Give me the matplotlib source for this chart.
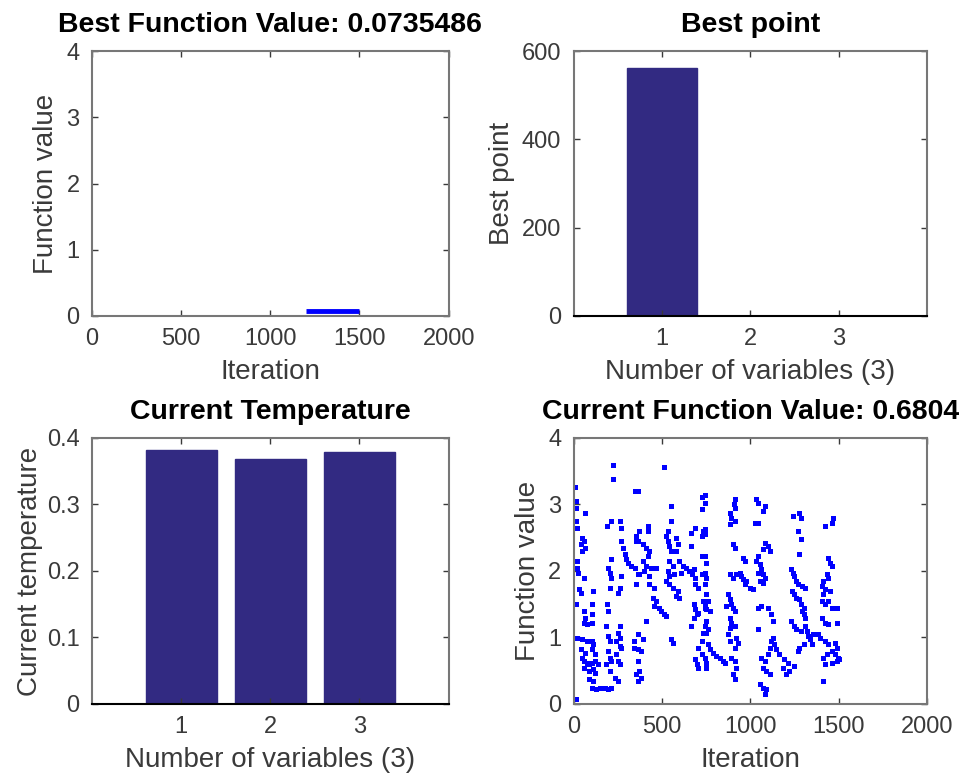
import numpy as np
import matplotlib.pyplot as plt

plt.rcParams['font.family'] = ['Liberation Sans', 'DejaVu Sans']

# best function value history (flat from iter 1200 to 1500)
best_fval = 0.0735486
best_iter = [1200, 1500]
best_vals = [best_fval, best_fval]

# best point / temperature per variable
var_ids = [1, 2, 3]
best_point = [563, 1.0, 1.0]
current_temp = [0.382, 0.368, 0.379]
current_fval = 0.6804

# current function value, (iteration, value)
current_pts = [
    (224, 3.60), (224, 3.39), (6, 3.27), (347, 3.20), (11, 3.05), (11, 2.94), (62, 2.87),
    (11, 2.75), (17, 2.64), (213, 2.75), (263, 2.75), (190, 2.67), (269, 2.64), (45, 2.49),
    (56, 2.45), (39, 2.40), (67, 2.34), (50, 2.30), (353, 2.52), (353, 2.45), (269, 2.45),
    (280, 2.34), (291, 2.25), (297, 2.18), (308, 2.12), (325, 2.07), (347, 2.04), (213, 2.18),
    (17, 2.15), (17, 2.04), (22, 1.97), (196, 2.04), (207, 1.97), (213, 1.89), (269, 1.92),
    (56, 1.89), (364, 1.95), (353, 1.80), (28, 1.73), (39, 1.67), (112, 1.70), (207, 1.74),
    (252, 1.67), (263, 1.74), (11, 1.50), (106, 1.50), (190, 1.50), (196, 1.40), (56, 1.40),
    (67, 1.29), (56, 1.22), (73, 1.20), (101, 1.35), (106, 1.22), (185, 1.17), (263, 1.17),
    (252, 1.07), (263, 0.99), (17, 0.99), (45, 0.98), (73, 0.95), (101, 0.95), (112, 0.90),
    (196, 1.02), (207, 0.95), (241, 0.95), (263, 0.87), (269, 0.84), (39, 0.83), (67, 0.77),
    (106, 0.83), (118, 0.75), (196, 0.80), (207, 0.69), (213, 0.65), (241, 0.75), (252, 0.65),
    (263, 0.60), (342, 0.95), (342, 0.84), (45, 0.69), (56, 0.65), (73, 0.62), (84, 0.60),
    (101, 0.62), (123, 0.65), (140, 0.60), (56, 0.54), (84, 0.50), (112, 0.53), (123, 0.47),
    (185, 0.60), (207, 0.50), (364, 0.65), (353, 0.45), (84, 0.38), (112, 0.35), (235, 0.39),
    (252, 0.35), (101, 0.24), (129, 0.23), (151, 0.24), (179, 0.24), (196, 0.23), (213, 0.24),
    (11, 0.08),
    (510, 3.57), (364, 3.20), (728, 3.12), (549, 2.97), (728, 2.93), (549, 2.75), (689, 2.64),
    (420, 2.67), (370, 2.60), (420, 2.60), (532, 2.60), (521, 2.52), (532, 2.45), (538, 2.37),
    (549, 2.30), (577, 2.49), (588, 2.40), (577, 2.30), (661, 2.57), (734, 2.60), (728, 2.52),
    (364, 2.45), (392, 2.40), (409, 2.34), (426, 2.30), (420, 2.22), (661, 2.37), (728, 2.22),
    (392, 2.15), (409, 2.07), (437, 2.04), (398, 2.00), (370, 1.95), (426, 1.92), (465, 2.04),
    (538, 2.15), (560, 2.07), (532, 2.00), (538, 1.92), (566, 1.95), (594, 2.15), (616, 2.07),
    (633, 2.04), (605, 1.97), (650, 2.00), (678, 2.03), (672, 1.95), (689, 1.89), (728, 1.95),
    (521, 1.85), (538, 1.80), (560, 1.74), (588, 1.70), (577, 1.62), (594, 1.59), (426, 1.80),
    (454, 1.74), (689, 1.80), (706, 1.74), (448, 1.59), (465, 1.55), (454, 1.47), (482, 1.44),
    (493, 1.40), (510, 1.35), (521, 1.32), (678, 1.50), (689, 1.43), (700, 1.35), (678, 1.29),
    (706, 1.37), (734, 1.55), (745, 1.44), (409, 1.25), (661, 1.17), (364, 1.05), (392, 0.98),
    (549, 0.98), (560, 0.92), (734, 1.07), (728, 0.95), (706, 0.84), (728, 0.75), (364, 0.83),
    (381, 0.80), (689, 0.68), (700, 0.60), (706, 0.54), (370, 0.50), (381, 0.39), (364, 0.35),
    (913, 3.09), (908, 3.00), (913, 2.94), (1031, 3.08), (1042, 3.02), (1081, 2.97), (1070, 2.90),
    (745, 3.15), (745, 3.02), (885, 2.87), (891, 2.79), (913, 2.75), (885, 2.70), (1025, 2.72),
    (1042, 2.72), (745, 2.63), (745, 2.55), (902, 2.40), (913, 2.34), (1081, 2.42), (1098, 2.37),
    (1070, 2.33), (1109, 2.30), (958, 2.19), (969, 2.15), (1042, 2.22), (1031, 2.15), (1053, 2.10),
    (1059, 2.03), (1042, 1.97), (1070, 1.95), (745, 2.22), (751, 2.12), (885, 1.95), (902, 1.89),
    (919, 1.95), (941, 1.97), (947, 1.92), (958, 1.88), (975, 1.85), (969, 1.80), (997, 1.74),
    (1014, 1.73), (1081, 1.89), (1070, 1.82), (1053, 1.85), (745, 1.97), (751, 1.89), (745, 1.80),
    (874, 1.65), (885, 1.58), (891, 1.50), (863, 1.47), (902, 1.44), (913, 1.40), (751, 1.65),
    (762, 1.55), (745, 1.50), (751, 1.43), (773, 1.40), (1042, 1.44), (1059, 1.47), (1098, 1.44),
    (885, 1.29), (891, 1.22), (913, 1.17), (885, 1.14), (1115, 1.35), (1126, 1.25), (751, 1.25),
    (745, 1.17), (762, 1.13), (751, 1.07), (1042, 1.13), (874, 1.05), (885, 0.95), (919, 0.99),
    (930, 0.92), (913, 0.84), (762, 0.90), (773, 0.83), (790, 0.77), (807, 0.72), (829, 0.69),
    (846, 0.65), (857, 0.62), (745, 0.69), (751, 0.62), (1115, 0.95), (1109, 0.84), (1098, 0.75),
    (891, 0.69), (913, 0.65), (919, 0.54), (902, 0.45), (913, 0.38), (1059, 0.69), (1081, 0.65),
    (1070, 0.54), (1087, 0.50), (1109, 0.45), (751, 0.54), (1053, 0.30), (1070, 0.24), (1087, 0.23),
    (1081, 0.15),
    (1272, 2.87), (1238, 2.82), (1283, 2.79), (1468, 2.79), (1462, 2.72), (1423, 2.67), (1266, 2.60),
    (1283, 2.48), (1272, 2.25), (1440, 2.19), (1451, 2.12), (1462, 2.07), (1227, 2.03), (1238, 1.97),
    (1244, 1.92), (1255, 1.85), (1266, 1.80), (1294, 1.77), (1311, 1.74), (1434, 1.95), (1440, 1.89),
    (1412, 1.85), (1406, 1.77), (1423, 1.73), (1451, 1.70), (1232, 1.70), (1244, 1.65), (1255, 1.59),
    (1272, 1.58), (1283, 1.50), (1300, 1.44), (1412, 1.65), (1406, 1.55), (1423, 1.50), (1440, 1.55),
    (1462, 1.44), (1490, 1.44), (1294, 1.40), (1300, 1.35), (1311, 1.29), (1406, 1.29), (1423, 1.22),
    (1440, 1.20), (1490, 1.22), (1227, 1.25), (1244, 1.17), (1255, 1.13), (1283, 1.10), (1311, 1.17),
    (1322, 1.10), (1328, 1.02), (1339, 0.98), (1356, 1.05), (1384, 1.05), (1395, 0.99), (1350, 0.90),
    (1300, 0.90), (1272, 0.84), (1266, 0.80), (1423, 0.95), (1440, 0.90), (1479, 0.92), (1490, 0.84),
    (1462, 0.80), (1479, 0.75), (1496, 0.69), (1490, 0.65), (1462, 0.62), (1434, 0.75), (1412, 0.69),
    (1423, 0.60), (1126, 0.99), (1132, 0.90), (1143, 0.83), (1160, 0.75), (1188, 0.68), (1210, 0.62),
    (1182, 0.54), (1216, 0.50), (1199, 0.45), (1244, 0.57), (1412, 0.35), (1500, 0.68),
]
cur_iter = np.array([p[0] for p in current_pts])
cur_val = np.array([p[1] for p in current_pts])

bar_color = '#322a82'
spine_color = '#777777'
text_color = '#3a3a3a'


def style(ax):
    for s in ax.spines.values():
        s.set_color(spine_color)
        s.set_linewidth(1.5)
    ax.tick_params(direction='in', top=True, right=True, length=4, width=1,
                   colors=text_color, labelsize=17, pad=9)


fig = plt.figure(figsize=(9.69, 7.81), dpi=100)

# top left: best function value
ax1 = fig.add_axes([0.095, 0.5954, 0.368, 0.339])
ax1.plot(best_iter, best_vals, color='#0000ff', lw=3.5, solid_capstyle='butt')
ax1.set_xlim(0, 2000)
ax1.set_ylim(0, 4)
ax1.set_xticks([0, 500, 1000, 1500, 2000])
ax1.set_yticks([0, 1, 2, 3, 4])
style(ax1)
ax1.set_title('Best Function Value: %g' % best_fval, fontsize=20.5, fontweight='bold', pad=14)
ax1.set_xlabel('Iteration', fontsize=20, color=text_color, labelpad=6)
ax1.set_ylabel('Function value', fontsize=20, color=text_color, labelpad=5)

# top right: best point
ax2 = fig.add_axes([0.592, 0.5954, 0.365, 0.339])
ax2.bar(var_ids, best_point, width=0.8, color=bar_color, edgecolor=bar_color)
ax2.set_xlim(0, 4)
ax2.set_ylim(0, 600)
ax2.set_xticks(var_ids)
ax2.set_yticks([0, 200, 400, 600])
style(ax2)
ax2.spines['bottom'].set_color('black')
ax2.set_title('Best point', fontsize=20.5, fontweight='bold', pad=14)
ax2.set_xlabel('Number of variables (3)', fontsize=20, color=text_color, labelpad=6)
ax2.set_ylabel('Best point', fontsize=20, color=text_color, labelpad=5)

# bottom left: current temperature
ax3 = fig.add_axes([0.095, 0.0986, 0.368, 0.3406])
ax3.bar(var_ids, current_temp, width=0.8, color=bar_color, edgecolor=bar_color)
ax3.set_xlim(0, 4)
ax3.set_ylim(0, 0.4)
ax3.set_xticks(var_ids)
ax3.set_yticks([0, 0.1, 0.2, 0.3, 0.4])
ax3.set_yticklabels(['0', '0.1', '0.2', '0.3', '0.4'])
style(ax3)
ax3.spines['bottom'].set_color('black')
ax3.set_title('Current Temperature', fontsize=20.5, fontweight='bold', pad=14)
ax3.set_xlabel('Number of variables (3)', fontsize=20, color=text_color, labelpad=6)
ax3.set_ylabel('Current temperature', fontsize=20, color=text_color, labelpad=3)

# bottom right: current function value
ax4 = fig.add_axes([0.592, 0.0986, 0.365, 0.3406])
ax4.plot(cur_iter, cur_val, linestyle='none', marker='s', markersize=3.6,
         color='#0000ff', markeredgewidth=0)
ax4.set_xlim(0, 2000)
ax4.set_ylim(0, 4)
ax4.set_xticks([0, 500, 1000, 1500, 2000])
ax4.set_yticks([0, 1, 2, 3, 4])
style(ax4)
ax4.set_title('Current Function Value: %g' % current_fval, fontsize=20.5, fontweight='bold', pad=14)
ax4.set_xlabel('Iteration', fontsize=20, color=text_color, labelpad=6)
ax4.set_ylabel('Function value', fontsize=20, color=text_color, labelpad=5)

fig.savefig('out.png', dpi=100)
